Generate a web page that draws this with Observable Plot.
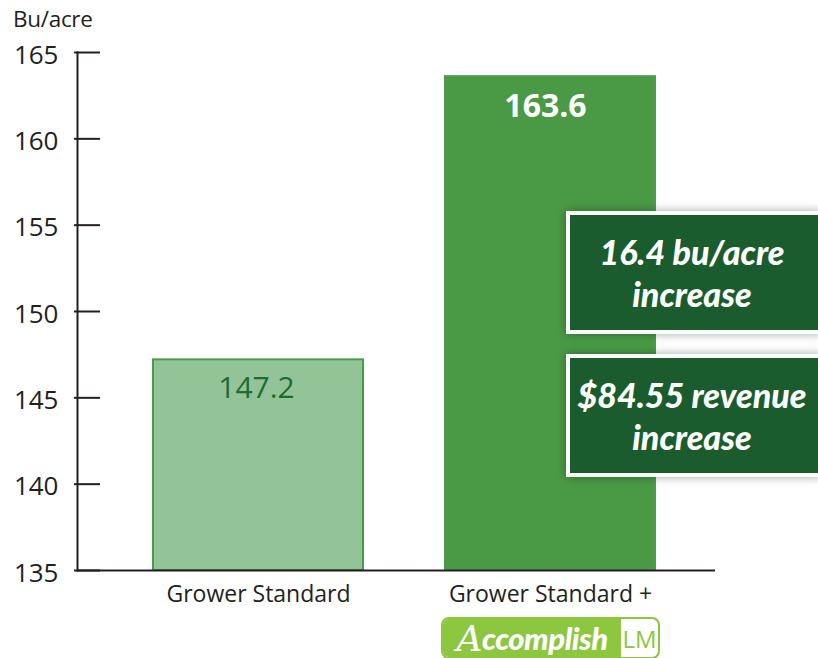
<!DOCTYPE html>
<html><head><meta charset="utf-8">
<script src="https://cdn.jsdelivr.net/npm/d3@7"></script>
<script src="https://cdn.jsdelivr.net/npm/@observablehq/plot@0.6"></script>
<style>
body{margin:0;background:#fff;font-family:"Open Sans",sans-serif;}
#wrap{position:relative;width:818px;height:658px;overflow:hidden;}
#wrap svg{position:absolute;left:0;top:0;}
.ylabel{position:absolute;left:13px;top:3px;font:22.5px "Open Sans",sans-serif;color:#231f20;letter-spacing:-0.3px;}
.callout{position:absolute;left:566px;width:256px;box-sizing:border-box;border:4px solid #fff;background:#1b5c2e;color:#fff;
 font:italic 900 34px Lato,sans-serif;text-align:center;box-shadow:0 0 9px rgba(0,0,0,0.35);display:flex;flex-direction:column;justify-content:center;line-height:42px;padding-right:4px;}
.logo{position:absolute;left:441px;top:617px;width:219px;height:42px;box-sizing:border-box;border:2px solid #8dc63f;border-radius:8px;overflow:hidden;display:flex;background:#fff;}
.logo .b{background:#8dc63f;color:#fff;font:italic 900 31px Lato,sans-serif;width:178px;display:flex;align-items:center;justify-content:center;letter-spacing:-0.5px;}
.logo .b span{font-family:"DejaVu Serif",serif;font-weight:normal;font-size:36px;}
.logo .s{flex:1;color:#8dc63f;font:24px "Open Sans",sans-serif;display:flex;align-items:center;justify-content:center;}
</style></head><body><div id="wrap"></div>
<script>
const categories = ["Grower Standard", "Grower Standard +"];
const yields = [147.2, 163.6];
const yTicks = [135, 140, 145, 150, 155, 160, 165];
const yLabel = "Bu/acre";
const callouts = [["16.4 bu/acre", "increase"], ["$84.55 revenue", "increase"]];
const brandName = "Accomplish";
const brandSuffix = "LM";

const data = categories.map((c, i) => ({category: c, value: yields[i]}));

const chart = Plot.plot({
  width: 818, height: 658,
  marginLeft: 77, marginRight: 103, marginTop: 52, marginBottom: 88,
  style: {fontFamily: "Open Sans", color: "#231f20", background: "transparent"},
  x: {domain: categories, paddingInner: 0.28, paddingOuter: 0.23, align: 0.56, axis: null},
  y: {domain: [yTicks[0], yTicks[yTicks.length - 1]], axis: null},
  color: {domain: categories, range: ["#93c497", "#4a9a45"]},
  marks: [
    Plot.barY(data, {x: "category", y1: yTicks[0], y2: "value", fill: "category", stroke: "#4c9d4a", strokeWidth: 2}),
    Plot.text(data.slice(0, 1), {x: "category", y: "value", text: d => d.value.toFixed(1), dy: 29, dx: -2, fill: "#1e6b35", fontSize: 30}),
    Plot.text(data.slice(1), {x: "category", y: "value", text: d => d.value.toFixed(1), dy: 30, dx: -5, fill: "#fff", fontSize: 32, fontWeight: "bold"}),
    Plot.axisY({ticks: yTicks, tickSize: -26, text: null, strokeWidth: 2, stroke: "#231f20", label: null, dx: -3}),
    Plot.axisY({ticks: yTicks, tickSize: 0, tickPadding: 19, fontSize: 26, label: null, dy: 3}),
    Plot.axisX({tickSize: 0, tickPadding: 15, fontSize: 23, label: null}),
    Plot.frame({anchor: "left", strokeWidth: 2, stroke: "#231f20"}),
    Plot.ruleY([yTicks[0]], {strokeWidth: 2, stroke: "#231f20"})
  ]
});

const wrap = document.getElementById("wrap");
wrap.appendChild(chart);

const yl = document.createElement("div");
yl.className = "ylabel"; yl.textContent = yLabel;
wrap.appendChild(yl);

const tops = [211, 354];
callouts.forEach((lines, i) => {
  const d = document.createElement("div");
  d.className = "callout";
  d.style.top = tops[i] + "px";
  d.style.height = "123px";
  lines.forEach(t => { const s = document.createElement("div"); s.textContent = t; d.appendChild(s); });
  wrap.appendChild(d);
});

const logo = document.createElement("div");
logo.className = "logo";
const b = document.createElement("div"); b.className = "b";
const a = document.createElement("span"); a.textContent = brandName[0];
b.appendChild(a); b.appendChild(document.createTextNode(brandName.slice(1)));
const s = document.createElement("div"); s.className = "s"; s.textContent = brandSuffix;
logo.appendChild(b); logo.appendChild(s);
wrap.appendChild(logo);
</script></body></html>
